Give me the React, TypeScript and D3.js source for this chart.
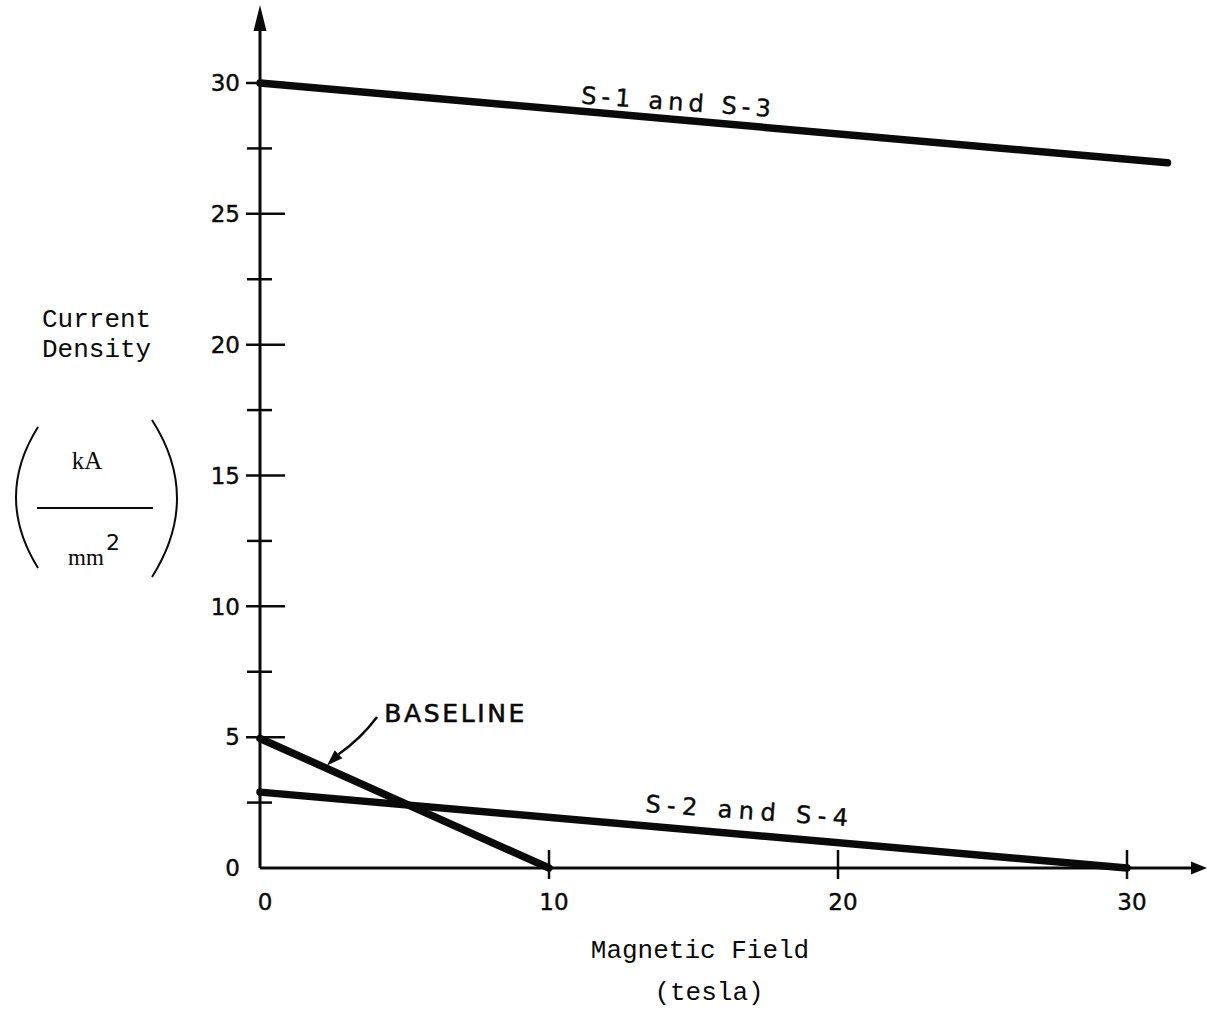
import React from "react";
import * as d3 from "d3";

// ---- data ----
const xTicks = [0, 10, 20, 30];
const yMajorTicks = [0, 5, 10, 15, 20, 25, 30];
const yMinorTicks = [2.5, 7.5, 12.5, 17.5, 22.5, 27.5];
const seriesS13 = [
  { x: 0, y: 30 },
  { x: 31.4, y: 26.95 },
];
const seriesS24 = [
  { x: 0, y: 2.9 },
  { x: 30, y: 0 },
];
const seriesBaseline = [
  { x: 0, y: 4.95 },
  { x: 10, y: 0 },
];
const labelS13 = { text: "S-1 and S-3", x: 11.1, y: 29.22 };
const labelS24 = { text: "S-2 and S-4", x: 13.32, y: 2.14 };
const labelBaseline = { text: "BASELINE", x: 4.3, y: 5.58 };
const baselineArrow = { x0: 4.05, y0: 5.77, x1: 2.32, y1: 3.92 };

const W = 1208;
const H = 1016;

export default function App() {
  const x = d3.scaleLinear().domain([0, 30]).range([260, 1127]);
  const y = d3.scaleLinear().domain([0, 30]).range([868, 83]);
  const line = d3
    .line<{ x: number; y: number }>()
    .x((d) => x(d.x))
    .y((d) => y(d.y));

  const x0 = x(0);
  const y0 = y(0);
  const yTop = 5;
  const xRight = 1207;

  const angleOf = (s: { x: number; y: number }[]) =>
    (Math.atan2(y(s[1].y) - y(s[0].y), x(s[1].x) - x(s[0].x)) * 180) / Math.PI;

  const a13 = angleOf(seriesS13) * 0.8;
  const a24 = angleOf(seriesS24) * 0.8;

  // baseline arrow
  const ax0 = x(baselineArrow.x0);
  const ay0 = y(baselineArrow.y0);
  const ax1 = x(baselineArrow.x1);
  const ay1 = y(baselineArrow.y1);
  const ang = Math.atan2(ay1 - ay0, ax1 - ax0);
  const hl = 16;
  const hw = 5.5;
  const bx = ax1 - hl * Math.cos(ang);
  const by = ay1 - hl * Math.sin(ang);
  const head = [
    [ax1, ay1],
    [bx + hw * Math.sin(ang), by - hw * Math.cos(ang)],
    [bx - hw * Math.sin(ang), by + hw * Math.cos(ang)],
  ];
  const mx = (ax0 + bx) / 2 + 3;
  const my = (ay0 + by) / 2 + 3;

  const tickFont = "'DejaVu Sans', sans-serif";
  const monoFont = "'Liberation Mono', 'DejaVu Sans Mono', monospace";
  const serifFont = "'Liberation Serif', 'DejaVu Serif', serif";
  const ink = "#0a0a0a";

  return (
    <svg
      width={W}
      height={H}
      viewBox={`0 0 ${W} ${H}`}
      style={{ position: "absolute", left: 0, top: 0, background: "#fff" }}
    >
      <rect x={0} y={0} width={W} height={H} fill="#fff" />

      {/* y axis */}
      <line x1={x0} y1={y0} x2={x0} y2={yTop + 20} stroke={ink} strokeWidth={3} />
      <polygon
        points={`${x0},${yTop} ${x0 - 6.5},${yTop + 26} ${x0 + 6.5},${yTop + 26}`}
        fill={ink}
      />
      {/* x axis */}
      <line x1={x0} y1={y0} x2={xRight - 12} y2={y0} stroke={ink} strokeWidth={3} />
      <polygon
        points={`${xRight},${y0} ${xRight - 16},${y0 - 6.5} ${xRight - 16},${y0 + 6.5}`}
        fill={ink}
      />

      {/* y ticks */}
      {yMajorTicks
        .filter((t) => t > 0)
        .map((t) => (
          <line
            key={"ym" + t}
            x1={x0 - 14}
            x2={x0 + 25}
            y1={y(t)}
            y2={y(t)}
            stroke={ink}
            strokeWidth={2.5}
          />
        ))}
      {yMinorTicks.map((t) => (
        <line
          key={"yn" + t}
          x1={x0 - 13}
          x2={x0 + 12}
          y1={y(t)}
          y2={y(t)}
          stroke={ink}
          strokeWidth={2.5}
        />
      ))}
      {yMajorTicks.map((t) => (
        <text
          key={"yl" + t}
          x={x0 - 20}
          y={y(t)}
          dy="0.36em"
          textAnchor="end"
          fontFamily={tickFont}
          fontSize={23}
          fill={ink}
          stroke={ink}
          strokeWidth={0.4}
        >
          {t}
        </text>
      ))}

      {/* x ticks */}
      {xTicks
        .filter((t) => t > 0)
        .map((t) => (
          <line
            key={"xt" + t}
            x1={x(t)}
            x2={x(t)}
            y1={y0 - 18}
            y2={y0 + 11}
            stroke={ink}
            strokeWidth={2.5}
          />
        ))}
      {xTicks.map((t) => (
        <text
          key={"xl" + t}
          x={x(t) + 5}
          y={y0 + 42}
          textAnchor="middle"
          fontFamily={tickFont}
          fontSize={23}
          fill={ink}
          stroke={ink}
          strokeWidth={0.4}
        >
          {t}
        </text>
      ))}

      {/* data lines */}
      {[seriesS13, seriesS24, seriesBaseline].map((s, i) => (
        <path
          key={"s" + i}
          d={line(s) || ""}
          fill="none"
          stroke={ink}
          strokeWidth={7.5}
          strokeLinecap="round"
        />
      ))}

      {/* line labels */}
      <text
        transform={`translate(${x(labelS13.x)},${y(labelS13.y)}) rotate(${a13})`}
        fontFamily={tickFont}
        fontSize={24}
        fill={ink}
        stroke={ink}
        strokeWidth={0.4}
        textLength={190}
        lengthAdjust="spacing"
      >
        {labelS13.text}
      </text>
      <text
        transform={`translate(${x(labelS24.x)},${y(labelS24.y)}) rotate(${a24})`}
        fontFamily={tickFont}
        fontSize={24}
        fill={ink}
        stroke={ink}
        strokeWidth={0.4}
        textLength={203}
        lengthAdjust="spacing"
      >
        {labelS24.text}
      </text>
      <text
        x={x(labelBaseline.x)}
        y={y(labelBaseline.y)}
        fontFamily={tickFont}
        fontSize={25}
        fill={ink}
        stroke={ink}
        strokeWidth={0.6}
        textLength={140}
        lengthAdjust="spacing"
      >
        {labelBaseline.text}
      </text>
      <path
        d={`M${ax0},${ay0} Q${mx},${my} ${bx},${by}`}
        fill="none"
        stroke={ink}
        strokeWidth={2.5}
      />
      <polygon points={head.map((p) => p.join(",")).join(" ")} fill={ink} />

      {/* y axis title */}
      <text x={42} y={327} fontFamily={monoFont} fontSize={26} fill={ink}>
        Current
      </text>
      <text x={42} y={357} fontFamily={monoFont} fontSize={26} fill={ink}>
        Density
      </text>
      <path d="M38,427 Q-6,497 38,568" fill="none" stroke={ink} strokeWidth={2} />
      <path d="M152,420 Q202,498 152,577" fill="none" stroke={ink} strokeWidth={2} />
      <text x={87} y={469} textAnchor="middle" fontFamily={serifFont} fontSize={25} fill={ink}>
        kA
      </text>
      <line x1={37} x2={153} y1={508} y2={508} stroke={ink} strokeWidth={1.8} />
      <text x={86} y={565} textAnchor="middle" fontFamily={serifFont} fontSize={23} fill={ink}>
        mm
      </text>
      <text x={106} y={550} fontFamily={tickFont} fontSize={22} fill={ink}>
        2
      </text>

      {/* x axis title */}
      <text x={700} y={958} textAnchor="middle" fontFamily={monoFont} fontSize={26} fill={ink}>
        Magnetic Field
      </text>
      <text x={709} y={1000} textAnchor="middle" fontFamily={monoFont} fontSize={26} fill={ink}>
        (tesla)
      </text>
    </svg>
  );
}
